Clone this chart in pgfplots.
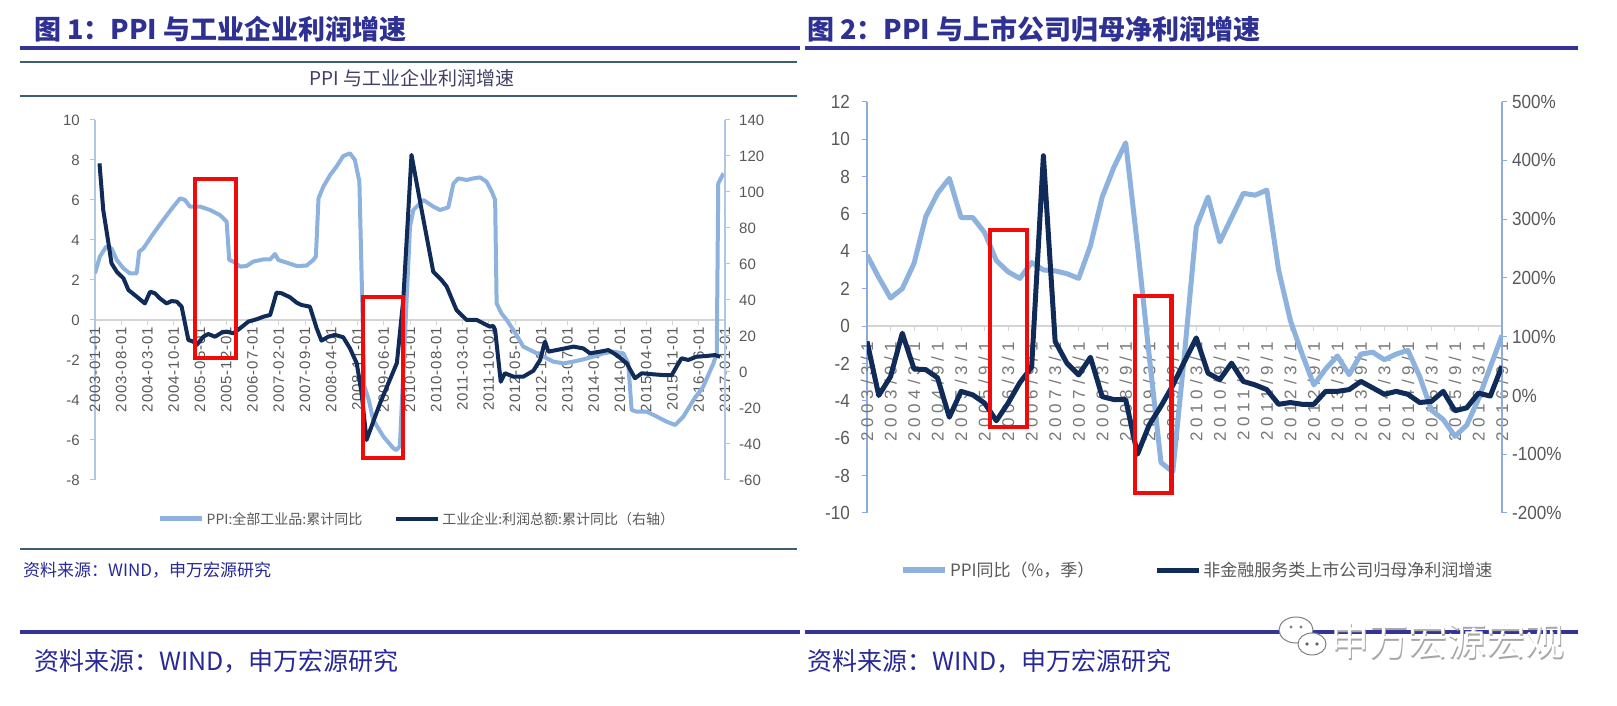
\documentclass[border=0pt]{standalone}
\usepackage{pgfplots}
\pgfplotsset{compat=1.18}
\usepackage{fontspec}
\setmainfont{Liberation Sans}
\newfontfamily\cjk{Noto Sans CJK SC}
\newfontfamily\tfa{Liberation Sans}[LetterSpace=6]
\newfontfamily\tfb{Liberation Sans}[LetterSpace=28]
\newfontfamily\nar{Liberation Sans}[FakeStretch=0.9]
\definecolor{lightline}{RGB}{141,178,222}
\definecolor{darkline}{RGB}{16,43,88}
\definecolor{hdrblue}{RGB}{46,49,146}
\definecolor{rulecol}{RGB}{52,52,150}
\definecolor{slate}{RGB}{60,95,115}
\definecolor{ticktext}{RGB}{89,89,89}
\definecolor{ticktextb}{RGB}{120,120,120}
\definecolor{axiscol}{RGB}{175,198,228}
\definecolor{axiscolb}{RGB}{140,172,218}
\definecolor{zerocol}{RGB}{212,212,212}
\definecolor{srcblue}{RGB}{40,40,150}
\definecolor{boxred}{RGB}{240,10,10}
\begin{document}
\begin{tikzpicture}
\begin{scope}[x=1pt,y=1pt]
\path[use as bounding box, fill=white] (0,0) rectangle (1617,706);
% headers
\node[anchor=west,inner sep=0,text=hdrblue,font=\cjk\bfseries\fontsize{27}{27}\selectfont] at (34,677) {图 1：PPI 与工业企业利润增速};
\node[anchor=west,inner sep=0,text=hdrblue,font=\cjk\bfseries\fontsize{27}{27}\selectfont] at (807,677) {图 2：PPI 与上市公司归母净利润增速};
\draw[rulecol,line width=4] (20,657.5) -- (800,657.5);
\draw[rulecol,line width=4] (805,657.5) -- (1578,657.5);
% chart 1 inner frame
\draw[slate,line width=2.5] (20,644) -- (797,644);
\draw[slate,line width=2.5] (20,610) -- (797,610);
\node[text={rgb,255:red,64;green,64;blue,100},font=\cjk\fontsize{19}{19}\selectfont] at (412,628) {PPI 与工业企业利润增速};
\draw[slate,line width=2.5] (20,157) -- (797,157);
\node[anchor=west,inner sep=0,text=srcblue,font=\cjk\fontsize{17}{17}\selectfont] at (23,136) {资料来源：WIND，申万宏源研究};
% bottom
\draw[rulecol,line width=4] (20,74) -- (800,74);
\draw[rulecol,line width=4] (805,74) -- (1578,74);
\node[anchor=west,inner sep=0,text=srcblue,font=\cjk\fontsize{25}{25}\selectfont] at (34,45) {资料来源：WIND，申万宏源研究};
\node[anchor=west,inner sep=0,text=srcblue,font=\cjk\fontsize{25}{25}\selectfont] at (807,45) {资料来源：WIND，申万宏源研究};
\end{scope}

% ---------------- chart 1 ----------------
\begin{axis}[
  at={(95pt,226pt)}, anchor=south west, width=630pt, height=360pt, scale only axis,
  xmin=0, xmax=168, ymin=-8, ymax=10,
  axis x line=middle, axis y line=left, axis line style={-},
  x axis line style={zerocol,line width=1.5pt},
  y axis line style={axiscol,line width=1.2pt},
  hide obscured x ticks=false, hide obscured y ticks=false,
  xtick={0,7,...,168},
  xticklabels={2003-01-01,2003-08-01,2004-03-01,2004-10-01,2005-05-01,2005-12-01,2006-07-01,2007-02-01,2007-09-01,2008-04-01,2008-11-01,2009-06-01,2010-01-01,2010-08-01,2011-03-01,2011-10-01,2012-05-01,2012-12-01,2013-07-01,2014-02-01,2014-09-01,2015-04-01,2015-11-01,2016-06-01,2017-01-01},
  x tick label style={rotate=90,anchor=east,font=\tfa\fontsize{15}{15}\selectfont,text=ticktext,inner sep=2pt},
  ytick={-8,-6,...,10},
  yticklabels={-8,-6,-4,-2,0,2,4,6,8,10},
  y tick label style={font=\fontsize{15}{15}\selectfont,text=ticktext,inner sep=0pt,xshift=-10pt},
  tick align=outside, major tick length=5pt,
  x tick style={zerocol,line width=1pt},
  y tick style={axiscol,line width=1pt},
]
\addplot[lightline,line width=4pt,line join=round] coordinates {
(0,2.33) (1.3,3.17) (3,3.67) (4.4,3.58) (5.8,3.0) (7.6,2.58) (9.3,2.33) (11.1,2.33) (11.8,3.42) (12.9,3.58) (15.6,4.33) (18.2,5.0) (20.9,5.67) (22.7,6.08) (24,6.0) (25.3,5.67) (28,5.67) (30.7,5.5) (33.3,5.25) (35.1,4.92) (35.8,3.0) (36.9,2.92) (38.7,2.67) (40.4,2.7) (42.2,2.92) (44.9,3.03) (46.7,3.03) (48,3.3) (48.9,3.0) (51.1,2.87) (53.8,2.7) (56.4,2.72) (58.2,3.0) (58.9,3.17) (59.6,6.08) (60.9,6.67) (62.7,7.25) (64.4,7.67) (66.2,8.2) (68,8.33) (69.3,8.0) (70.5,6.92) (71.8,-3.3) (73,-4.0) (74.2,-5.0) (76.9,-5.83) (79.6,-6.42) (80.4,-6.5) (81.3,-6.3) (84,4.67) (84.9,5.5) (87.6,6.0) (90.2,5.67) (92,5.5) (94.2,5.63) (95.6,6.83) (96.9,7.08) (99.1,7.0) (100.9,7.08) (102.7,7.13) (104.4,6.92) (105.8,6.42) (106.7,6.0) (107.1,0.83) (108.4,0.33) (109.8,0) (112.4,-0.75) (114.2,-1.33) (116.9,-1.58) (119.6,-1.83) (122.2,-2.08) (124.9,-2.17) (127.6,-2.08) (130.2,-1.97) (132.9,-1.83) (135.6,-1.67) (138.2,-1.58) (140.9,-1.67) (142.2,-2.17) (143.1,-4.5) (144.4,-4.58) (147.1,-4.58) (149.8,-4.83) (152.4,-5.08) (154.7,-5.25) (156.9,-4.83) (159.6,-4.0) (162.2,-3.33) (164.9,-2.17) (165.8,-1.67) (166.2,6.83) (167.6,7.33)
};
\end{axis}
\begin{axis}[
  at={(95pt,226pt)}, anchor=south west, width=630pt, height=360pt, scale only axis,
  xmin=0, xmax=168, ymin=-60, ymax=140,
  axis x line=none, axis y line*=right, axis line style={-},
  y axis line style={axiscol,line width=1.2pt},
  ytick={-60,-40,...,140},
  yticklabels={-60,-40,-20,0,20,40,60,80,100,120,140},
  y tick label style={font=\fontsize{15}{15}\selectfont,text=ticktext,inner sep=0pt,xshift=9pt},
  tick align=outside, major tick length=5pt,
  y tick style={axiscol,line width=1pt},
  legend image code/.code={\draw[#1] (0pt,0pt) -- (42pt,0pt);},
  legend style={at={(0.511,-0.108)},anchor=center,legend columns=2,draw=none,fill=none,
    font=\cjk\fontsize{14}{14}\selectfont,text=ticktext,
    /tikz/every even column/.append style={column sep=30pt}},
]
\addlegendimage{lightline,line width=5pt}
\addlegendentry{PPI:全部工业品:累计同比}
\addplot[darkline,line width=4pt,line join=round] coordinates {
(1.2,115.9) (2.2,90) (3.6,71.5) (4.4,60.4) (5.8,55.7) (7.6,52) (8.9,45.6) (11.1,41.9) (13.3,38.1) (14.7,44.6) (16,43.7) (17.3,40.9) (19.1,38.1) (20.4,39.4) (21.8,39.1) (23.1,36.3) (24.9,17.8) (26.2,16.9) (27.1,15) (28.9,19.6) (30.2,21.1) (32,19.6) (33.8,21.9) (35.1,22.4) (36.9,21.5) (38.7,24.3) (40.9,28) (43.1,29.3) (44.9,30.7) (46.7,31.7) (47.6,38.1) (48.4,44.1) (49.8,43.7) (52,41.5) (53.8,38.5) (55.1,37.2) (57.3,36.3) (59.1,24.3) (60.4,17.4) (62.2,19.6) (64,20.6) (66.2,19.3) (68,13.1) (69.8,4.8) (71.1,-11.9) (72.4,-37.8) (76,-17.4) (80.5,5) (82.2,40) (84.4,120.6) (87.1,90) (90.2,55.7) (92.4,51.1) (93.8,47.4) (96.4,34.4) (99.1,28.9) (101.8,28.9) (103.6,27) (105.3,25.2) (106.2,25.6) (106.7,23.3) (108.2,-5.4) (109.3,-0.7) (111.6,-2.6) (114.2,-2.6) (116.9,0.7) (118.7,6.7) (120,16.9) (120.9,11.3) (123.1,12.2) (125.3,13.1) (127.6,14.1) (130.2,13.1) (132,10.4) (134.7,11.3) (136.9,12.2) (139.1,9.4) (141.8,4.8) (144,-3.5) (145.8,-0.7) (148.9,-1.3) (151.6,-1.7) (153.8,-1.7) (155.1,3) (156.4,7.6) (158.2,6.7) (160.4,8.5) (163.1,8.9) (165.3,9.4) (166.7,8.5)
};
\addlegendentry{工业企业:利润总额:累计同比（右轴）}
\draw[boxred,line width=4.5pt] (axis cs:26.7,7.8) rectangle (axis cs:37.6,107.2);
\draw[boxred,line width=4.5pt] (axis cs:71.5,-47.8) rectangle (axis cs:82.1,41.7);
\end{axis}

% ---------------- chart 2 ----------------
\begin{axis}[
  at={(867pt,193pt)}, anchor=south west, width=635pt, height=411.3pt, scale only axis,
  xmin=0, xmax=54, ymin=-10, ymax=12,
  axis x line=middle, axis y line=left, axis line style={-},
  x axis line style={zerocol,line width=1.5pt},
  y axis line style={axiscolb,line width=1.2pt},
  hide obscured x ticks=false, hide obscured y ticks=false,
  xtick={0,2,...,54},
  xticklabels={2003/3/1,2003/9/1,2004/3/1,2004/9/1,2005/3/1,2005/9/1,2006/3/1,2006/9/1,2007/3/1,2007/9/1,2008/3/1,2008/9/1,2009/3/1,2009/9/1,2010/3/1,2010/9/1,2011/3/1,2011/9/1,2012/3/1,2012/9/1,2013/3/1,2013/9/1,2014/3/1,2014/9/1,2015/3/1,2015/9/1,2016/3/1,2016/9/1},
  x tick label style={rotate=90,anchor=east,font=\tfb\fontsize{17}{17}\selectfont,text=ticktextb,inner sep=2pt},
  xticklabel shift=9pt,
  ytick={-10,-8,...,12},
  yticklabels={-10,-8,-6,-4,-2,0,2,4,6,8,10,12},
  y tick label style={font=\nar\fontsize{19}{19}\selectfont,text=ticktext,inner sep=0pt,xshift=-12pt},
  tick align=outside, major tick length=5pt,
  x tick style={zerocol,line width=1pt},
  y tick style={axiscolb,line width=1pt},
]
\addplot[lightline,line width=5pt,line join=round] coordinates {
(0,3.8) (1,2.6) (2,1.5) (3,2.0) (4,3.35) (5,5.85) (6,7.1) (7,7.9) (8,5.8) (9,5.8) (10,5.0) (11,3.5) (12,2.9) (13,2.55) (14,3.4) (15,3.0) (16,2.95) (17,2.8) (18,2.55) (19,4.3) (20,6.9) (21,8.5) (22,9.8) (23,4.3) (24,-1.6) (25,-7.3) (26,-7.8) (27,-1.5) (28,5.3) (29,6.9) (30,4.5) (31,5.8) (32,7.1) (33,7.0) (34,7.27) (35,3.0) (36,0.3) (37,-1.5) (38,-3.15) (39,-2.3) (40,-1.6) (41,-2.6) (42,-1.5) (43,-1.4) (44,-1.8) (45,-1.5) (46,-1.3) (47,-2.7) (48,-4.5) (49,-5.0) (50,-5.9) (51,-5.3) (52,-3.9) (53,-2.2) (54,-0.5)
};
\end{axis}
\begin{axis}[
  at={(867pt,193pt)}, anchor=south west, width=635pt, height=411.3pt, scale only axis,
  xmin=0, xmax=54, ymin=-200, ymax=500,
  axis x line=none, axis y line*=right, axis line style={-},
  y axis line style={axiscolb,line width=1.2pt},
  ytick={-200,-100,...,500},
  yticklabels={-200\%,-100\%,0\%,100\%,200\%,300\%,400\%,500\%},
  y tick label style={font=\nar\fontsize{19}{19}\selectfont,text=ticktext,inner sep=0pt,xshift=5pt},
  tick align=outside, major tick length=5pt,
  y tick style={axiscolb,line width=1pt},
  legend image code/.code={\draw[#1] (0pt,0pt) -- (42pt,0pt);},
  legend style={at={(0.52,-0.139)},anchor=center,legend columns=2,draw=none,fill=none,
    font=\cjk\fontsize{17}{17}\selectfont,text=ticktext,
    /tikz/every even column/.append style={column sep=58pt}},
]
\addlegendimage{lightline,line width=6pt}
\addlegendentry{PPI同比（\%，季）}
\addplot[darkline,line width=5pt,line join=round] coordinates {
(0,92) (1,0) (2,32) (3,106) (4,45) (5,44) (6,30) (7,-37) (8,7) (9,1) (10,-13) (11,-43) (12,-13) (13,22) (14,48) (15,408) (16,92) (17,55) (18,35) (19,65) (20,-2) (21,-7) (22,-7) (23,-100) (24,-50) (25,-18) (26,17) (27,58) (28,98) (29,38) (30,27) (31,55) (32,24) (33,18) (34,10) (35,-15) (36,-12) (37,-15) (38,-15) (39,7) (40,7) (41,10) (42,24) (43,13) (44,2) (45,7) (46,2) (47,-12) (48,-10) (49,7) (50,-26) (51,-21) (52,4) (53,-1) (54,50)
};
\addlegendentry{非金融服务类上市公司归母净利润增速}
\draw[boxred,line width=4.5pt] (axis cs:10.46,-53.6) rectangle (axis cs:13.6,281.4);
\draw[boxred,line width=4.5pt] (axis cs:22.8,-166) rectangle (axis cs:25.9,169.1);
\end{axis}

% watermark
\begin{scope}[x=1pt,y=1pt]
\draw[gray,line width=1pt,fill=white] (1296,76) ellipse (17 and 13);
\draw[gray,line width=1pt,fill=white] (1312,62) ellipse (14 and 11);
\fill[gray] (1291,79) circle (1.6); \fill[gray] (1301,79) circle (1.6);
\fill[gray!80!black] (1307,62) circle (1.8); \fill[gray!80!black] (1317,62) circle (1.8);
\node[anchor=west,inner sep=0,text=gray!70,font=\cjk\fontsize{39}{39}\selectfont] at (1331.2,63.8) {申万宏源宏观};
\node[anchor=west,inner sep=0,text=white,font=\cjk\fontsize{39}{39}\selectfont] at (1330,65) {申万宏源宏观};
\end{scope}
\end{tikzpicture}
\end{document}
